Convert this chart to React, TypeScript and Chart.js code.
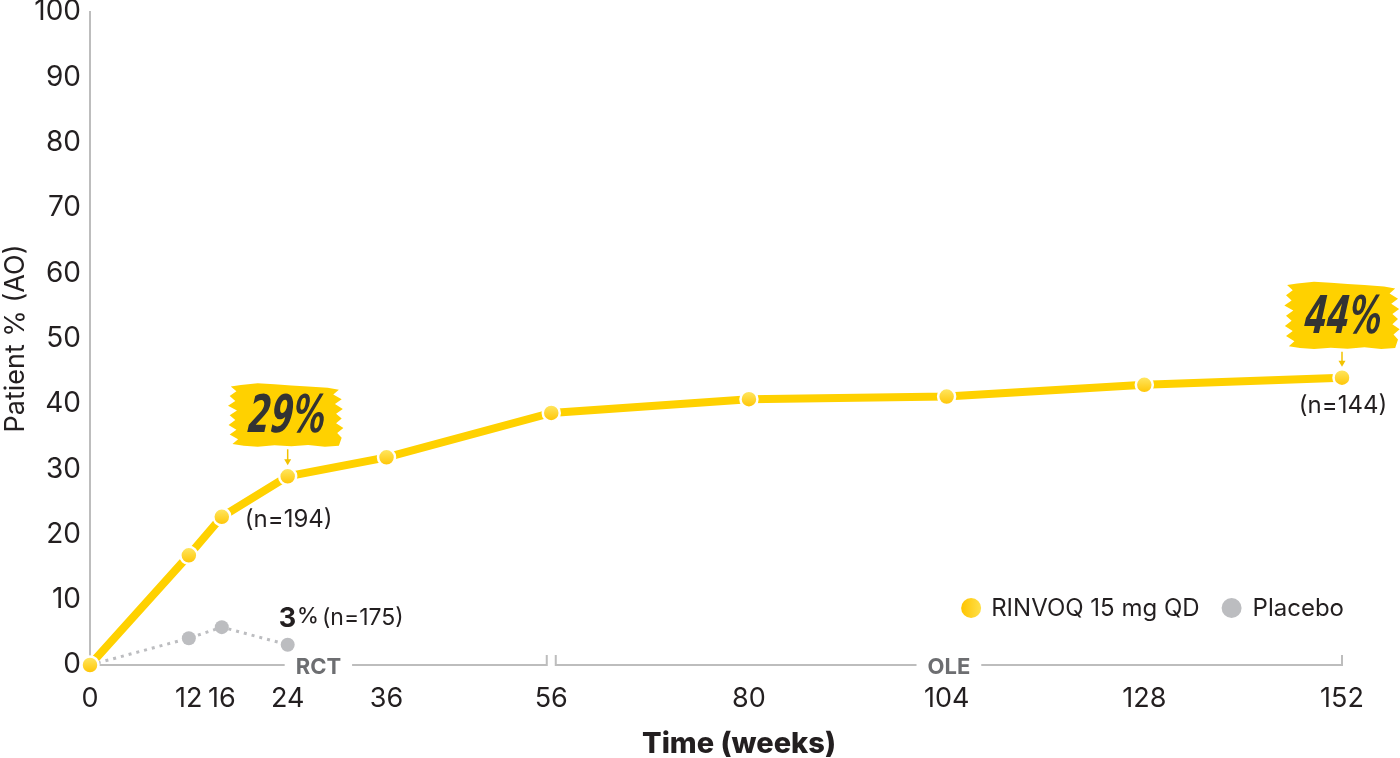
import React, { useEffect, useRef } from "react";
import { Chart, registerables } from "chart.js";

Chart.register(...registerables);

// ---------- data ----------
const xTickWeeks = [0, 12, 16, 24, 36, 56, 80, 104, 128, 152];
const yTickValues = [0, 10, 20, 30, 40, 50, 60, 70, 80, 90, 100];
const seriesLabels = ["RINVOQ 15 mg QD", "Placebo"];
const rinvoqWeeks = [0, 12, 16, 24, 36, 56, 80, 104, 128, 152];
const rinvoqValues = [0, 16.8, 22.7, 28.9, 31.8, 38.6, 40.7, 41.1, 42.9, 44.0];
const placeboWeeks = [0, 12, 16, 24];
const placeboValues = [0, 4.1, 5.8, 3.1];
const calloutWeeks = [24, 152];
const calloutValues = [28.9, 44.0];
const calloutTexts = ["29%", "44%"];
const nLabelTexts = ["(n=194)", "(n=144)"];
const placeboEndPct = ["3", "%"];
const placeboEndN = "(n=175)";
const periodLabels = ["RCT", "OLE"];
const periodBounds = [0, 56, 152];
const xTitle = "Time (weeks)";
const yTitle = "Patient % (AO)";

// ---------- styles ----------
const YELLOW = "#FFD100";
const GREY = "#BCBDC0";
const AXIS = "#BDBDBD";
const TEXT = "#231F20";
const PERIOD_TEXT = "#6D6E71";
const FONT = "Inter";

function yellowGradient(ctx: CanvasRenderingContext2D, cx: number, cy: number, r: number) {
  const g = ctx.createLinearGradient(cx, cy - r, cx, cy + r);
  g.addColorStop(0, "#FFE866");
  g.addColorStop(1, "#FFC400");
  return g;
}

function legendGradient(ctx: CanvasRenderingContext2D, cx: number, cy: number, r: number) {
  const g = ctx.createLinearGradient(cx - r, cy, cx + r, cy);
  g.addColorStop(0, "#FFC400");
  g.addColorStop(1, "#FFE04A");
  return g;
}

const brushShape: number[][] = [
  [-0.8, -0.95], [-0.5, -1.0], [-0.2, -0.97], [0.1, -0.93], [0.4, -0.9], [0.75, -0.86],
  [0.95, -0.8], [0.85, -0.65], [1.0, -0.5], [0.88, -0.35], [1.02, -0.2], [0.9, -0.05],
  [1.0, 0.1], [0.9, 0.25], [1.03, 0.4], [0.92, 0.55], [1.0, 0.7], [0.95, 0.95],
  [0.7, 0.98], [0.4, 0.93], [0.1, 0.97], [-0.2, 0.94], [-0.5, 0.98], [-0.75, 0.95],
  [-0.95, 0.9], [-0.85, 0.75], [-1.0, 0.6], [-0.88, 0.45], [-1.02, 0.3], [-0.9, 0.15],
  [-1.0, 0.0], [-0.87, -0.15], [-1.03, -0.3], [-0.9, -0.45], [-1.0, -0.6], [-0.88, -0.75],
  [-0.98, -0.9],
];

const periodPlugin = {
  id: "periods",
  beforeDatasetsDraw(chart: any) {
    const { ctx, chartArea } = chart;
    const x = chart.scales.x;
    const y = chartArea.bottom;
    ctx.save();
    ctx.font = `700 22px ${FONT}`;
    ctx.strokeStyle = AXIS;
    ctx.lineWidth = 2;
    ctx.fillStyle = PERIOD_TEXT;
    ctx.textAlign = "center";
    ctx.textBaseline = "middle";
    for (let i = 0; i < periodLabels.length; i++) {
      const a = x.getPixelForValue(periodBounds[i]) + (i > 0 ? 4.5 : 0);
      const b = x.getPixelForValue(periodBounds[i + 1]) - (i < periodLabels.length - 1 ? 4.5 : 0);
      const mid = (a + b) / 2;
      const tw = ctx.measureText(periodLabels[i]).width;
      const gap = tw / 2 + 11;
      ctx.beginPath();
      ctx.moveTo(a, y - (i > 0 ? 10 : 0));
      ctx.lineTo(a, y);
      ctx.lineTo(mid - gap, y);
      ctx.moveTo(mid + gap, y);
      ctx.lineTo(b, y);
      ctx.lineTo(b, y - 10);
      ctx.stroke();
      ctx.fillText(periodLabels[i], mid, y + 2);
    }
    ctx.restore();
  },
};

const annotationPlugin = {
  id: "annotations",
  afterDatasetsDraw(chart: any) {
    const { ctx, chartArea } = chart;
    const xs = chart.scales.x;
    const ys = chart.scales.y;
    ctx.save();
    // callouts
    const nOffsets = [[1, 43], [1, 28]];
    for (let i = 0; i < calloutWeeks.length; i++) {
      const px = xs.getPixelForValue(calloutWeeks[i]);
      const py = ys.getPixelForValue(calloutValues[i]);
      const cx = px - (i === 0 ? 2 : 0);
      const cy = py - 61 - (i === 1 ? 1 : 0);
      const hw = 56;
      const hh = i === 1 ? 34 : 32;
      ctx.beginPath();
      brushShape.forEach(([bx, by], k) => {
        const X = cx + bx * hw;
        const Y = cy + by * hh;
        if (k === 0) ctx.moveTo(X, Y);
        else ctx.lineTo(X, Y);
      });
      ctx.closePath();
      ctx.fillStyle = YELLOW;
      ctx.fill();
      // arrow
      ctx.strokeStyle = "#F2C200";
      ctx.fillStyle = "#F2C200";
      ctx.lineWidth = 1.5;
      ctx.beginPath();
      ctx.moveTo(px, cy + hh + 2);
      ctx.lineTo(px, py - 16);
      ctx.stroke();
      ctx.beginPath();
      ctx.moveTo(px - 3.5, py - 17);
      ctx.lineTo(px + 3.5, py - 17);
      ctx.lineTo(px, py - 11);
      ctx.closePath();
      ctx.fill();
      // text
      ctx.save();
      ctx.translate(cx, cy + 17);
      ctx.transform(1, 0, -0.1, 1, 0, 0);
      ctx.scale(0.62, 1);
      ctx.font = `italic 700 52px "DejaVu Sans"`;
      ctx.fillStyle = "#333333";
      ctx.textAlign = "center";
      ctx.textBaseline = "alphabetic";
      ctx.fillText(calloutTexts[i], 0, 0);
      ctx.restore();
      // n label
      ctx.font = `400 24px ${FONT}`;
      ctx.fillStyle = TEXT;
      ctx.textAlign = "center";
      ctx.textBaseline = "middle";
      ctx.fillText(nLabelTexts[i], px + nOffsets[i][0], py + nOffsets[i][1]);
    }
    // placebo end label
    const lw = placeboWeeks[placeboWeeks.length - 1];
    const lv = placeboValues[placeboValues.length - 1];
    const qx = xs.getPixelForValue(lw);
    const qy = ys.getPixelForValue(lv);
    ctx.fillStyle = TEXT;
    ctx.textAlign = "left";
    ctx.textBaseline = "alphabetic";
    ctx.font = `700 27px ${FONT}`;
    let tx = qx - 9;
    ctx.fillText(placeboEndPct[0], tx, qy - 18);
    tx += ctx.measureText(placeboEndPct[0]).width + 1;
    ctx.font = `500 22px ${FONT}`;
    ctx.fillText(placeboEndPct[1], tx, qy - 22);
    tx += ctx.measureText(placeboEndPct[1]).width + 3;
    ctx.font = `400 23px ${FONT}`;
    ctx.textBaseline = "middle";
    ctx.fillText(placeboEndN, tx, qy - 27);
    // x-axis title
    ctx.font = `800 29px ${FONT}`;
    ctx.textAlign = "center";
    ctx.textBaseline = "alphabetic";
    ctx.fillText(xTitle, (chartArea.left + chartArea.right) / 2 + 23, chart.height - 5);
    ctx.restore();
  },
};

const legendPlugin = {
  id: "customLegend",
  afterDraw(chart: any) {
    const { ctx, chartArea } = chart;
    ctx.save();
    ctx.font = `400 24px ${FONT}`;
    ctx.textBaseline = "middle";
    ctx.textAlign = "left";
    const cy = chartArea.bottom - 57;
    const r = 10;
    const w2 = ctx.measureText(seriesLabels[1]).width;
    const w1 = ctx.measureText(seriesLabels[0]).width;
    const t2 = chartArea.right + 2 - w2;
    const c2 = t2 - 21;
    const t1r = c2 - r - 22;
    const t1 = t1r - w1;
    const c1 = t1 - 20;
    ctx.beginPath();
    ctx.arc(c1, cy, r, 0, Math.PI * 2);
    ctx.fillStyle = legendGradient(ctx, c1, cy, r);
    ctx.fill();
    ctx.beginPath();
    ctx.arc(c2, cy, r, 0, Math.PI * 2);
    ctx.fillStyle = GREY;
    ctx.fill();
    ctx.fillStyle = TEXT;
    ctx.fillText(seriesLabels[0], t1, cy + 1);
    ctx.fillText(seriesLabels[1], t2, cy + 1);
    ctx.restore();
  },
};

export default function App() {
  const ref = useRef<HTMLCanvasElement | null>(null);
  useEffect(() => {
    if (!ref.current) return;
    const chart = new Chart(ref.current, {
      type: "line",
      data: {
        datasets: [
          {
            label: seriesLabels[0],
            data: rinvoqWeeks.map((w, i) => ({ x: w, y: rinvoqValues[i] })),
            borderColor: YELLOW,
            borderWidth: 8,
            pointRadius: 8.5,
            pointBorderColor: "#FFFFFF",
            pointBorderWidth: 2.5,
            pointBackgroundColor: (c: any) => {
              const ch = c.chart;
              if (!ch.chartArea || c.type !== "data" || !c.raw) return YELLOW;
              const px = ch.scales.x.getPixelForValue(c.raw.x);
              const py = ch.scales.y.getPixelForValue(c.raw.y);
              return yellowGradient(ch.ctx, px, py, 8.5);
            },
            tension: 0,
            clip: false,
          } as any,
          {
            label: seriesLabels[1],
            data: placeboWeeks.map((w, i) => ({ x: w, y: placeboValues[i] })),
            borderColor: GREY,
            borderWidth: 3,
            borderDash: [3, 5],
            pointRadius: 7,
            pointBackgroundColor: GREY,
            pointBorderWidth: 0,
            tension: 0,
            clip: false,
          } as any,
        ],
      },
      options: {
        responsive: false,
        animation: false,
        devicePixelRatio: 1,
        layout: { padding: { top: 12, right: 58, left: 0, bottom: 0 } },
        plugins: { legend: { display: false }, tooltip: { enabled: false } },
        scales: {
          x: {
            type: "linear",
            min: 0,
            max: 152,
            afterBuildTicks: (s: any) => {
              s.ticks = xTickWeeks.map((v) => ({ value: v }));
            },
            afterFit: (s: any) => {
              s.height = 93;
              s.paddingLeft = 0;
              s.paddingRight = 0;
            },
            grid: { display: false, drawTicks: false },
            border: { display: false },
            ticks: {
              font: { family: FONT, size: 27 },
              color: TEXT,
              padding: 18,
              autoSkip: false,
              maxRotation: 0,
            },
            title: { display: false },
          },
          y: {
            min: 0,
            max: 100,
            afterBuildTicks: (s: any) => {
              s.ticks = yTickValues.map((v) => ({ value: v }));
            },
            afterFit: (s: any) => {
              s.width = 90;
              s.paddingTop = 0;
              s.paddingBottom = 0;
            },
            grid: { display: false, drawTicks: false },
            border: { display: true, color: AXIS, width: 2 },
            ticks: { font: { family: FONT, size: 28 }, color: TEXT, padding: 9 },
            title: {
              display: true,
              text: yTitle,
              font: { family: FONT, size: 27 },
              color: TEXT,
              padding: { top: 0, bottom: 0 },
            },
          },
        },
      } as any,
      plugins: [periodPlugin, annotationPlugin, legendPlugin],
    });
    return () => chart.destroy();
  }, []);
  return (
    <div style={{ position: "absolute", left: 0, top: 0, width: 1400, height: 758, background: "#fff" }}>
      <canvas ref={ref} width={1400} height={758} style={{ display: "block" }} />
    </div>
  );
}
